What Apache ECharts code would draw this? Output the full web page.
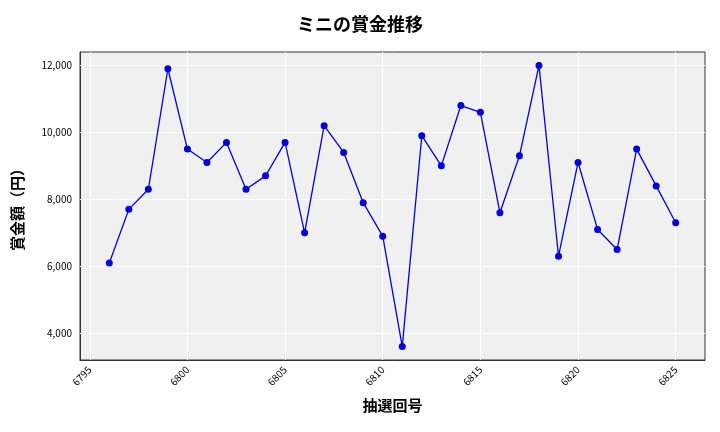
<!DOCTYPE html>
<html><head><meta charset="utf-8">
<script src="https://cdn.jsdelivr.net/npm/echarts@6/dist/echarts.min.js"></script>
<style>body{margin:0}#c{width:720px;height:432px}</style></head>
<body><div id="c"></div>
<script>
const draws=[6796,6797,6798,6799,6800,6801,6802,6803,6804,6805,6806,6807,6808,6809,6810,6811,6812,6813,6814,6815,6816,6817,6818,6819,6820,6821,6822,6823,6824,6825];
const prizes=[6100,7700,8300,11900,9500,9100,9700,8300,8700,9700,7000,10200,9400,7900,6900,3600,9900,9000,10800,10600,7600,9300,12000,6300,9100,7100,6500,9500,8400,7300];
const yTicks=[4000,6000,8000,10000,12000];
const xTicks=[6795,6800,6805,6810,6815,6820,6825];
const F='"Noto Sans CJK JP", sans-serif';
const chart=echarts.init(document.getElementById('c'));
const gl={color:'#ffffff',width:1,type:'solid'};
chart.setOption({
 animation:false,
 title:{text:'ミニの賞金推移',left:'center',top:10,textStyle:{fontFamily:F,fontSize:18,fontWeight:'bold',color:'#000'}},
 grid:{left:80,right:15,top:52,bottom:72,backgroundColor:'#f0f0f0',show:true,borderWidth:1,borderColor:'#333'},
 xAxis:{type:'value',min:6794.5,max:6826.5,interval:0.5,
  name:'抽選回号',nameLocation:'middle',nameGap:38,nameTextStyle:{fontFamily:F,fontSize:15,fontWeight:'bold',color:'#000'},
  axisLine:{show:true,onZero:false,lineStyle:{color:'#333'}},axisTick:{show:false},splitLine:{show:false},
  axisLabel:{rotate:45,fontSize:10,color:'#000',fontFamily:F,formatter:v=>(Math.abs(v%5)<1e-6?String(v):'')}},
 yAxis:{type:'value',min:3200,max:12400,interval:200,
  name:'賞金額（円）',nameLocation:'middle',nameGap:55,nameTextStyle:{fontFamily:F,fontSize:15,fontWeight:'bold',color:'#000'},
  axisLine:{show:true,lineStyle:{color:'#333'}},axisTick:{show:false},splitLine:{show:false},
  axisLabel:{fontSize:10,color:'#000',fontFamily:F,formatter:v=>(v%2000===0?v.toLocaleString('en-US'):'')}},
 series:[
  {type:'line',z:1,data:[],markLine:{silent:true,z:1,symbol:'none',label:{show:false},lineStyle:gl,
    data:yTicks.map(v=>({yAxis:v})).concat(xTicks.map(v=>({xAxis:v})))}},
  {type:'line',z:5,data:draws.map((d,i)=>[d,prizes[i]]),symbol:'circle',symbolSize:7,
   lineStyle:{color:'#0000e0',width:1.3},itemStyle:{color:'#0000e0'}}
 ]
});
</script></body></html>
